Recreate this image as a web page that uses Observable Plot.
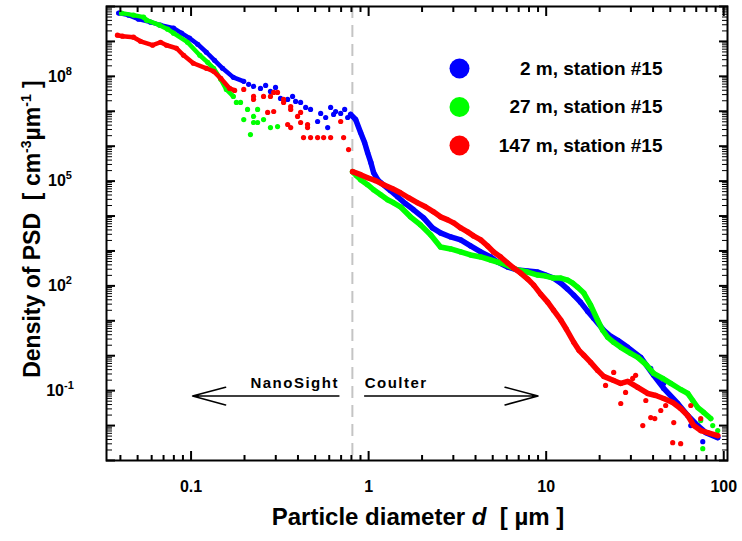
<!DOCTYPE html>
<html><head><meta charset="utf-8">
<script src="https://cdn.jsdelivr.net/npm/d3@7"></script>
<script src="https://cdn.jsdelivr.net/npm/@observablehq/plot@0.6"></script>
<style>html,body{margin:0;padding:0;background:#fff}svg{display:block}</style>
</head><body><div id="chart"></div>
<script>
// ---------- data (d in µm, PSD density in cm^-3 µm^-1) ----------
const seriesNames = ["2 m, station #15", "27 m, station #15", "147 m, station #15"];
const seriesColors = ["#0000ff", "#00ff00", "#ff0000"];

const blueNanoBand = [[0.0391,6.5e9],[0.0445,5.66e9],[0.0506,4.35e9],[0.0591,3.56e9],[0.0673,2.92e9],[0.0797,2.39e9],[0.0884,1.72e9],[0.098,1.24e9],[0.109,8.3e8],[0.122,4.9e8],[0.1356,2.88e8],[0.1505,1.7e8],[0.173,9.36e7],[0.198,7.18e7]];
const blueNanoScatter = [[0.211,5.89e7],[0.225,5.16e7],[0.246,4.52e7],[0.263,5.51e7],[0.280,3.71e7],[0.299,4.83e7],[0.319,2.33e7],[0.350,2.18e7],[0.373,2.66e7],[0.388,1.91e7],[0.414,1.79e7],[0.442,1.29e7],[0.471,1.13e7],[0.516,5.09e6],[0.537,8.65e6],[0.573,6.64e6],[0.588,3.42e6],[0.611,1.29e7],[0.635,8.1e6],[0.652,9.86e6],[0.696,8.65e6],[0.733,1.13e7],[0.762,6.64e6]];
const blueCoulterBand = [[0.792,8.1e6],[0.845,5.8e6],[0.901,2.46e6],[0.949,1.27e6],[0.987,6.55e5],[1.03,3.38e5],[1.067,1.74e5],[1.124,1.1e5],[1.17,9.0e4],[1.33,5.3e4],[1.456,3.56e4],[1.617,2.24e4],[1.793,1.51e4],[2.04,8.9e3],[2.29,4.58e3],[2.54,3.29e3],[2.90,2.52e3],[3.30,2.07e3],[3.75,1.39e3],[4.28,936],[4.87,673],[5.33,483],[6.07,347],[6.91,284],[7.87,266],[8.96,249],[9.94,204],[11.0,167],[12.1,120],[13.2,80.9],[14.3,54.4],[15.6,34.2],[17.1,18.9],[18.5,11.9],[21.1,5.37],[23.1,3.61],[25.3,2.77],[28.8,1.74],[34.1,0.90],[40.3,0.274],[45.9,0.116],[55.1,0.0429],[62.7,0.0194],[71.4,0.0100],[79.2,0.00629],[92.5,0.00452]];
const blueTailScatter = [[38.8,0.435],[45.9,0.161],[65.2,0.0100],[76.2,0.00347]];

const greenNanoBand = [[0.0406,6.46e9],[0.0474,5.66e9],[0.0540,4.96e9],[0.0561,4.06e9],[0.0665,2.92e9],[0.0738,2.24e9],[0.0797,1.72e9],[0.0955,9.48e8],[0.112,4.01e8],[0.124,2.52e8],[0.134,1.7e8],[0.147,8.2e7],[0.158,4.23e7],[0.173,2.66e7]];
const greenNanoScatter = [[0.180,1.79e7],[0.190,1.79e7],[0.208,1.13e7],[0.198,5.8e6],[0.225,7.1e6],[0.225,4.77e6],[0.237,1.13e7],[0.216,2.15e6],[0.256,5.8e6],[0.280,3.42e6],[0.307,3.65e6],[0.237,4.77e6]];
const greenCoulterBand = [[0.812,1.86e5],[0.856,1.43e5],[0.901,1.1e5],[0.987,7.88e4],[1.067,5.66e4],[1.17,4.06e4],[1.28,2.92e4],[1.383,2.39e4],[1.51,1.84e4],[1.72,9.5e3],[1.96,5.58e3],[2.24,2.88e3],[2.54,1.3e3],[2.90,1.14e3],[3.30,936],[3.75,767],[4.28,673],[4.87,551],[5.54,452],[6.15,371],[6.91,284],[7.87,249],[8.96,204],[9.94,191],[11.0,167],[12.1,167],[13.2,147],[14.1,120],[15.0,92.4],[16.3,62.1],[17.8,28.0],[19.5,10.4],[20.8,5.37],[22.2,3.38],[24.0,2.43],[26.3,1.74],[29.9,1.17],[32.8,0.90],[36.4,0.566],[40.3,0.312],[45.3,0.224],[50.3,0.161],[57.2,0.108],[62.7,0.0831],[66.9,0.0523],[71.4,0.0329],[77.2,0.0237],[84.5,0.0159]];
const greenTailScatter = [[92.5,0.00718],[76.2,0.00218],[86.7,0.0100],[74.2,0.0139]];

const redNanoBand = [[0.0385,1.51e9],[0.0411,1.41e9],[0.0474,1.32e9],[0.0519,1.01e9],[0.0607,7.78e8],[0.0673,9.48e8],[0.0728,7.78e8],[0.0828,6.38e8],[0.0908,4.01e8],[0.103,2.37e8],[0.122,1.7e8],[0.134,1.39e8],[0.147,8.77e7],[0.165,4.52e7],[0.176,3.96e7]];
const redNanoScatter = [[0.198,4.23e7],[0.225,2.66e7],[0.225,2.18e7],[0.256,2.66e7],[0.280,2.66e7],[0.292,3.47e7],[0.307,3.47e7],[0.332,2.18e7],[0.332,1.79e7],[0.364,1.37e7],[0.364,1.13e7],[0.398,7.1e6],[0.414,9.25e6],[0.414,4.77e6],[0.453,4.18e6],[0.453,3.42e6],[0.430,1.77e6],[0.471,1.77e6],[0.516,1.77e6],[0.558,1.77e6],[0.611,1.77e6],[0.696,5.09e6],[0.723,1.77e6],[0.771,7.98e5],[0.292,9.86e6],[0.270,9.25e6],[0.350,4.18e6],[0.364,3.42e6]];
const redCoulterBand = [[0.812,1.86e5],[0.901,1.53e5],[0.987,1.25e5],[1.095,1.03e5],[1.215,7.88e4],[1.365,6.05e4],[1.51,4.65e4],[1.68,3.34e4],[1.89,2.39e4],[2.09,1.84e4],[2.32,1.32e4],[2.54,9.48e3],[2.79,7.78e3],[3.01,6.38e3],[3.30,4.58e3],[3.61,3.52e3],[3.90,2.7e3],[4.28,2.07e3],[4.68,1.39e3],[5.06,936],[5.54,673],[6.07,452],[6.56,324],[7.18,233],[7.87,157],[8.51,105],[9.31,58.1],[10.2,34.2],[11.0,20.2],[12.1,10.4],[13.0,5.74],[14.3,2.43],[15.3,1.43],[16.3,1.03],[17.8,0.645],[19.5,0.380],[21.1,0.256],[24.0,0.196],[26.3,0.161],[28.8,0.184],[32.8,0.124],[37.3,0.0831],[41.4,0.0728],[45.9,0.0597],[51.6,0.0458],[57.2,0.0308],[62.7,0.0194],[67.8,0.0100],[74.2,0.00718],[81.2,0.00629],[92.5,0.00516]];
const redTailScatter = [[26.3,0.0429],[35.0,0.0100],[38.8,0.0170],[40.9,0.0159],[52.3,0.0122],[51.6,0.00324],[57.2,0.00304],[21.6,0.141],[30.7,0.224],[36.4,0.0523],[44.2,0.027],[24.0,0.333],[28.0,0.0887],[31.9,0.274],[47.1,0.0376],[65.2,0.0376],[74.2,0.0159]];

// instrument boundary and arrow annotations
const nanoCoulterCut = [0.81];
const arrowNotes = [
  {label: "NanoSight", x1: 0.68, x2: 0.102, y: 0.07, anchor: "end"},
  {label: "Coulter",   x1: 0.95, x2: 9.0,   y: 0.07, anchor: "start"}
];

// axis ticks and labels
const xLabelTicks = [0.1, 1, 10, 100];
const xDecades = [0.01, 0.1, 1, 10, 100];
const yLabelTicks = [1e8, 1e5, 1e2, 1e-1];
const yLabelExps = ["8", "5", "2", "-1"];
const yDecadeExps = [-3,-2,-1,0,1,2,3,4,5,6,7,8,9,10];
const minorMultipliers = [2,3,4,5,6,7,8,9];

const xDomain = [0.0334, 105];
const yDomain = [1e-3, 1e10];

// ---------- build ----------
const font = "'Liberation Sans', Arial, Helvetica, sans-serif";
const rows = (arr) => arr.map(([d, v]) => ({d, v}));
const xMinor = [];
for (const dec of xDecades) for (const m of minorMultipliers) { const t = dec*m; if (t > xDomain[0] && t < xDomain[1]) xMinor.push(t); }
const yMajor = yDecadeExps.map(e => Math.pow(10, e));
const yMinor = [];
for (const t of yMajor) for (const m of minorMultipliers) { if (t*m < yDomain[1]) yMinor.push(t*m); }
const xMajor = xDecades.filter(t => t > xDomain[0] && t < xDomain[1]);

const series = [
  {color: seriesColors[0], nanoBand: blueNanoBand, nanoScatter: blueNanoScatter, coulterBand: blueCoulterBand, tail: blueTailScatter},
  {color: seriesColors[1], nanoBand: greenNanoBand, nanoScatter: greenNanoScatter, coulterBand: greenCoulterBand, tail: greenTailScatter},
  {color: seriesColors[2], nanoBand: redNanoBand, nanoScatter: redNanoScatter, coulterBand: redCoulterBand, tail: redTailScatter}
];

const marks = [];
marks.push(Plot.ruleX(nanoCoulterCut, {x: d => d, stroke: "#c4c4c4", strokeWidth: 2, strokeDasharray: "12,7"}));
for (const s of series) {
  marks.push(Plot.line(rows(s.nanoBand), {x: "d", y: "v", stroke: s.color, strokeWidth: 4.5, strokeLinecap: "round", strokeLinejoin: "round"}));
  marks.push(Plot.line(rows(s.coulterBand), {x: "d", y: "v", stroke: s.color, strokeWidth: 5.5, strokeLinecap: "round", strokeLinejoin: "round"}));
  marks.push(Plot.dot(rows([...s.nanoBand, ...s.nanoScatter, ...s.coulterBand, ...s.tail]), {x: "d", y: "v", r: 2.6, fill: s.color, stroke: null}));
}
// arrows & instrument labels
marks.push(Plot.arrow(arrowNotes, {x1: "x1", x2: "x2", y1: "y", y2: "y", stroke: "black", strokeWidth: 1.6, headLength: 32, headAngle: 30}));
for (const a of arrowNotes) {
  marks.push(Plot.text([a], {x: "x1", y: "y", text: "label", textAnchor: a.anchor, dy: -13, fontSize: 15, fontWeight: "bold", fill: "black", className: "spaced"}));
}
// legend
seriesNames.forEach((name, i) => {
  marks.push(Plot.dot([name], {frameAnchor: "top-left", dx: 353, dy: 62 + i * 38.5, r: 10, fill: seriesColors[i], stroke: null}));
  marks.push(Plot.text([name], {frameAnchor: "top-left", dx: 556, dy: 62 + i * 38.5, text: d => d, textAnchor: "end", lineAnchor: "middle", fontSize: 19, fontWeight: "bold", fill: "black"}));
});
// axes: inward ticks on all four sides (outward tick shifted into the frame)
const tk = (opts) => ({tickFormat: () => "", label: null, ...opts});
marks.push(Plot.axisX(tk({anchor: "bottom", ticks: xMajor, tickSize: 9, dy: -9, strokeWidth: 2})));
marks.push(Plot.axisX(tk({anchor: "bottom", ticks: xMinor, tickSize: 5, dy: -5, strokeWidth: 2})));
marks.push(Plot.axisX(tk({anchor: "top", ticks: xMajor, tickSize: 9, dy: 9, strokeWidth: 2})));
marks.push(Plot.axisX(tk({anchor: "top", ticks: xMinor, tickSize: 5, dy: 5, strokeWidth: 2})));
marks.push(Plot.axisX({anchor: "bottom", ticks: xLabelTicks, tickSize: 0, tickPadding: 20, tickFormat: d => String(d), fontSize: 16, fontWeight: "bold", label: null}));
marks.push(Plot.axisY(tk({anchor: "left", ticks: yMajor, tickSize: 9, dx: 9, strokeWidth: 2})));
marks.push(Plot.axisY(tk({anchor: "left", ticks: yMinor, tickSize: 6, dx: 6, strokeWidth: 1})));
marks.push(Plot.axisY(tk({anchor: "right", ticks: yMajor, tickSize: 9, dx: -9, strokeWidth: 2})));
marks.push(Plot.axisY(tk({anchor: "right", ticks: yMinor, tickSize: 6, dx: -6, strokeWidth: 1})));
marks.push(Plot.frame({stroke: "black", strokeWidth: 2}));

const chart = Plot.plot({
  width: 742, height: 541,
  marginLeft: 106, marginRight: 15, marginTop: 6, marginBottom: 81,
  x: {type: "log", domain: xDomain},
  y: {type: "log", domain: yDomain},
  style: {fontFamily: font, fontWeight: "bold", color: "black", background: "white", overflow: "visible"},
  marks
});
document.getElementById("chart").appendChild(chart);
d3.select(chart).selectAll(".spaced text").attr("letter-spacing", 1.5);

// superscripted y tick labels and axis titles
const yS = chart.scale("y");
const g = d3.select(chart).append("g").attr("font-family", font).attr("font-weight", "bold").attr("fill", "black");
yLabelTicks.forEach((v, i) => {
  const t = g.append("text").attr("x", 60).attr("y", yS.apply(v) + 5.8).attr("font-size", 16);
  t.append("tspan").text("10");
  t.append("tspan").attr("dy", -7).attr("font-size", 11).text(yLabelExps[i]);
});
const xt = g.append("text").attr("x", 418).attr("y", 525).attr("text-anchor", "middle").attr("font-size", 24).attr("xml:space", "preserve");
xt.append("tspan").text("Particle diameter ");
xt.append("tspan").attr("font-style", "italic").text("d");
xt.append("tspan").text("  [ µm ]");
const yt = g.append("text").attr("transform", "translate(40,229) rotate(-90)").attr("text-anchor", "middle").attr("font-size", 23).attr("xml:space", "preserve");
yt.append("tspan").text("Density of PSD  [ cm");
yt.append("tspan").attr("dy", -9).attr("font-size", 14).text("-3");
yt.append("tspan").attr("dy", 9).text("µm");
yt.append("tspan").attr("dy", -9).attr("font-size", 14).text("-1");
yt.append("tspan").attr("dy", 9).text(" ]");
</script>
</body></html>
